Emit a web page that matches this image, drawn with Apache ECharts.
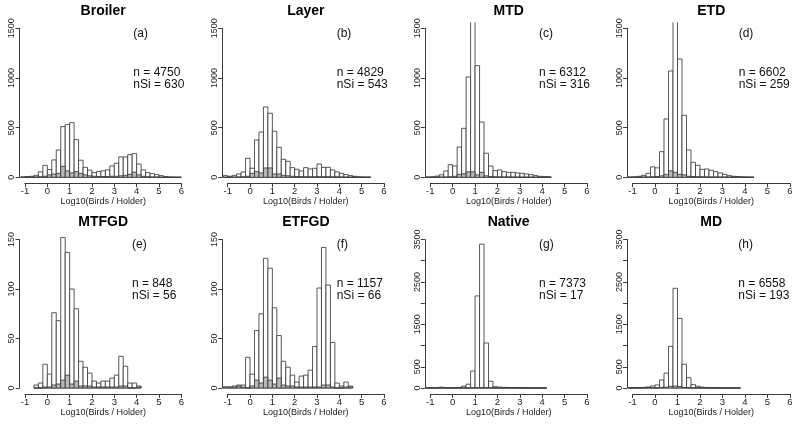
<!DOCTYPE html>
<html><head><meta charset="utf-8">
<script src="https://cdn.jsdelivr.net/npm/echarts@6/dist/echarts.min.js"></script>
<style>html,body{margin:0;padding:0;background:#fff}#c{width:800px;height:424px}</style>
</head><body><div id="c"></div>
<script>
// ---------- data ----------
const binWidth = 0.2;
const titles = ['Broiler','Layer','MTD','ETD','MTFGD','ETFGD','Native','MD'];
const letters = ['(a)','(b)','(c)','(d)','(e)','(f)','(g)','(h)'];
const nTotal = [4750,4829,6312,6602,848,1157,7373,6558];
const nSiTotal = [630,543,316,259,56,66,17,193];
const binStart = [-1.2,-1.2,-1.2,-1.2,-0.6,-1.2,-1.2,-1.2];
const yMax = [1500,1500,1500,1500,150,150,3500,3500];
const yTickStep = [500,500,500,500,50,50,500,500];
const yLabels1500 = [0,500,1000,1500];
const yLabels150 = [0,50,100,150];
const yLabels3500 = [0,500,1500,2500,3500];
const xTickLabels = [-1,0,1,2,3,4,5,6];
const xAxisTitle = 'Log10(Birds / Holder)';

const broilerAll = [3,8,10,20,55,120,78,175,275,510,530,550,380,172,100,72,47,58,65,75,114,141,205,205,228,238,134,74,47,37,27,17,7,3,1,0];
const broilerSi  = [0,1,2,3,5,10,25,33,40,110,65,45,57,40,25,15,10,8,8,8,10,10,15,20,30,52,25,10,5,3,2,1,0,0,0,0];
const layerAll = [17,10,20,34,54,191,91,376,456,708,645,463,302,181,161,97,81,64,97,84,91,134,100,100,74,54,40,27,17,10,5,3,2];
const layerSi  = [0,1,2,3,5,10,40,57,44,94,94,34,34,20,15,10,8,6,5,5,5,6,6,5,4,4,3,2,1,1,0,0,0];
const mtdAll = [2,5,12,25,64,128,114,305,493,1010,1640,1124,557,242,114,67,74,57,50,50,44,40,34,27,17,10,7,5];
const mtdSi  = [0,0,1,2,3,5,10,30,35,55,55,25,50,15,8,5,4,3,3,2,2,1,1,1,0,0,0,0];
const etdAll = [2,5,10,20,40,105,95,258,587,1070,1640,1191,624,275,151,121,80,84,70,57,44,30,17,10,7,4,3,2];
const etdSi  = [0,0,1,2,3,5,8,15,30,65,50,30,25,10,8,6,5,4,3,3,2,2,2,2,5,1,0,0];
const mtfgdAll = [3,5,24,14,76,68,152,137,100,80,27,21,15,7,5,7,7,10,13,32,22,5,5,2];
const mtfgdSi  = [0,0,1,1,3,4,8,13,4,7,2,2,2,1,1,1,1,1,1,2,2,0,0,1];
const etfgdAll = [1,1,2,3,3,31,14,58,75,131,121,81,53,27,21,13,6,12,13,18,42,101,142,104,46,5,2,6,2];
const etfgdSi  = [1,1,1,2,1,0,2,8,5,11,8,4,10,3,2,2,1,1,1,1,1,1,3,3,1,0,0,1,1];
const nativeAll = [2,3,5,20,8,5,8,12,45,90,400,2170,3390,1060,160,30,20,15,12,10,10,5,3,2,1,1,1];
const nativeSi  = [0,0,0,0,0,0,0,0,0,1,2,5,6,2,1,0,0,0,0,0,0,0,0,0,0,0,0];
const mdAll = [5,8,10,15,25,48,72,190,350,980,2350,1640,560,245,80,40,20,12,6,3,2,1,1,1,1];
const mdSi  = [0,0,1,1,2,3,5,15,20,40,45,35,15,6,3,1,1,0,0,0,0,0,0,0,0];

const allCounts = [broilerAll,layerAll,mtdAll,etdAll,mtfgdAll,etfgdAll,nativeAll,mdAll];
const siCounts  = [broilerSi,layerSi,mtdSi,etdSi,mtfgdSi,etfgdSi,nativeSi,mdSi];
const yLabelSets = [yLabels1500,yLabels1500,yLabels1500,yLabels1500,yLabels150,yLabels150,yLabels3500,yLabels3500];

// ---------- layout ----------
const colPx = [[25,181.3],[227.7,384],[430.3,587],[632.5,790]];   // pixel of x=-1 and x=6
const rowPx = [[28.3,177.3],[239.5,388]];                          // pixel of top tick and 0
const labelLeft = [133.3,336.7,539,738.7,132,336.7,539,738.3];
const FONT = '"Liberation Sans", Arial, Helvetica, sans-serif';
const LINE = '#3a3a3a';
const TXT = '#222';

function histRenderer(fill){
  return function(params, api){
    const cs = params.coordSys;
    const p0 = api.coord([api.value(0), 0]);
    const p1 = api.coord([api.value(1), api.value(2)]);
    const x0 = p0[0], x1 = p1[0], yb = p0[1];
    let yt = p1[1];
    const stroke = {stroke: LINE, lineWidth: 0.85, fill: null};
    if (yt < cs.y) {
      yt = cs.y;
      return {type:'group', children:[
        {type:'rect', shape:{x:x0, y:yt, width:x1-x0, height:yb-yt}, style:{fill:fill, stroke:null}},
        {type:'polyline', shape:{points:[[x0,yt],[x0,yb],[x1,yb],[x1,yt]]}, style:stroke}
      ]};
    }
    return {type:'rect', shape:{x:x0, y:yt, width:x1-x0, height:Math.max(yb-yt,0)},
            style:{fill:fill, stroke:LINE, lineWidth:0.85}};
  };
}

const grids=[], xAxes=[], yAxes=[], series=[], graphics=[];
for (let p=0;p<8;p++){
  const c=p%4, r=Math.floor(p/4);
  const xa=colPx[c][0], xb=colPx[c][1], yt=rowPx[r][0], yb=rowPx[r][1];
  const kx=(xb-xa)/7;
  const padX=0.28*kx, padY=0.04*(yb-yt);
  grids.push({left:xa, top:yt, width:xb-xa, height:yb-yt});
  grids.push({left:xa-padX, top:yt-padY, width:xb-xa+2*padX, height:yb-yt+2*padY});
  const labs = yLabelSets[p];
  xAxes.push({gridIndex:2*p, type:'value', min:-1, max:6, interval:1, offset:padY,
    axisLine:{show:true, onZero:false, lineStyle:{color:LINE, width:1}},
    axisTick:{show:true, length:4, lineStyle:{color:LINE, width:1}},
    splitLine:{show:false},
    axisLabel:{fontSize:9.5, color:TXT, margin:3, fontFamily:FONT,
      formatter:v=> xTickLabels.includes(v)? String(v):''},
    name:xAxisTitle, nameLocation:'middle', nameGap:14,
    nameTextStyle:{fontSize:9, color:TXT, fontFamily:FONT}});
  yAxes.push({gridIndex:2*p, type:'value', min:0, max:yMax[p], interval:yTickStep[p], offset:5.5,
    axisLine:{show:true, onZero:false, lineStyle:{color:LINE, width:1}},
    axisTick:{show:true, length:4, lineStyle:{color:LINE, width:1}},
    splitLine:{show:false},
    axisLabel:{fontSize:9, color:TXT, margin:3, rotate:90, fontFamily:FONT,
      formatter:v=> labs.includes(v)? String(v):''}});
  xAxes.push({gridIndex:2*p+1, type:'value', min:-1.28, max:6.28, show:false, splitLine:{show:false}});
  yAxes.push({gridIndex:2*p+1, type:'value', min:-0.04*yMax[p], max:1.04*yMax[p], show:false, splitLine:{show:false}});

  const mk = arr => arr.map((v,i)=>[binStart[p]+i*binWidth, binStart[p]+(i+1)*binWidth, v]);
  series.push({type:'custom', xAxisIndex:2*p+1, yAxisIndex:2*p+1, encode:{x:[0,1], y:2},
    data:mk(allCounts[p]), renderItem:histRenderer('#ffffff'), silent:true});
  series.push({type:'custom', xAxisIndex:2*p+1, yAxisIndex:2*p+1, encode:{x:[0,1], y:2},
    data:mk(siCounts[p]), renderItem:histRenderer('#b8b8b8'), silent:true});

  const plotTop = yt-padY;
  const cx = xa + 3.5*kx;
  graphics.push({type:'text', x:cx, y:plotTop-11, style:{text:titles[p], font:'bold 14px '+FONT, fill:'#000', align:'center', verticalAlign:'middle'}});
  graphics.push({type:'text', x:labelLeft[p], y:plotTop+11, style:{text:letters[p], font:'12px '+FONT, fill:'#111', align:'left', verticalAlign:'middle'}});
  graphics.push({type:'text', x:labelLeft[p], y:plotTop+50, style:{text:'n = '+nTotal[p], font:'12px '+FONT, fill:'#111', align:'left', verticalAlign:'middle'}});
  graphics.push({type:'text', x:labelLeft[p], y:plotTop+62.5, style:{text:'nSi = '+nSiTotal[p], font:'12px '+FONT, fill:'#111', align:'left', verticalAlign:'middle'}});
}

const chart = echarts.init(document.getElementById('c'), null, {renderer:'canvas'});
chart.setOption({animation:false, backgroundColor:'#fff', grid:grids, xAxis:xAxes, yAxis:yAxes, series:series, graphic:graphics});
</script></body></html>
